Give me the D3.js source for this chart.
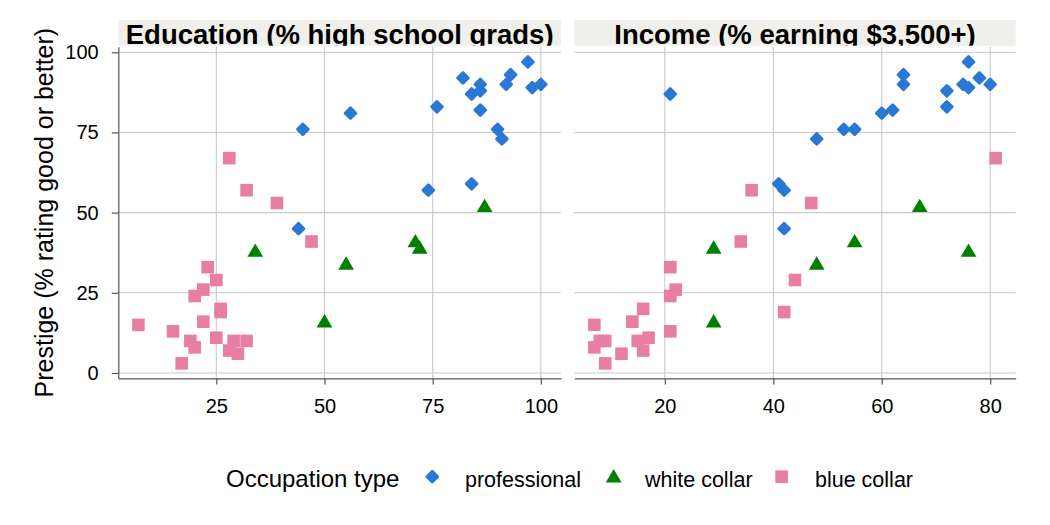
<!DOCTYPE html>
<html>
<head>
<meta charset="utf-8">
<script src="https://cdn.jsdelivr.net/npm/d3@7/dist/d3.min.js"></script>
<style>
  html, body { margin: 0; padding: 0; background: #fff; }
  svg { display: block; font-family: "Liberation Sans", Arial, sans-serif; }
</style>
</head>
<body>
<svg id="chart" width="1050" height="525"></svg>
<script>
// Duncan occupational prestige data
const occupations = ["accountant","pilot","architect","author","chemist","minister","professor","dentist","reporter","engineer","undertaker","lawyer","physician","welfare.worker","teacher","conductor","contractor","factory.owner","store.manager","banker","bookkeeper","mail.carrier","insurance.agent","store.clerk","carpenter","electrician","RR.engineer","machinist","auto.repairman","plumber","gas.stn.attendant","coal.miner","streetcar.motorman","taxi.driver","truck.driver","machine.operator","barber","bartender","shoe.shiner","cook","soda.clerk","watchman","janitor","policeman","waiter"];
const types = ["prof","prof","prof","prof","prof","prof","prof","prof","wc","prof","prof","prof","prof","prof","prof","wc","prof","prof","prof","prof","wc","wc","wc","wc","bc","bc","bc","bc","bc","bc","bc","bc","bc","bc","bc","bc","bc","bc","bc","bc","bc","bc","bc","bc","bc"];
const income = [62,72,75,55,64,21,64,80,67,72,42,76,76,41,48,76,53,60,42,78,29,48,55,29,21,47,81,36,22,44,15,7,42,9,21,21,16,16,9,14,12,17,7,34,8];
const education = [86,76,92,90,86,84,93,100,87,86,74,98,97,84,91,34,45,56,44,82,72,55,71,50,23,39,28,32,22,25,29,7,26,19,15,20,26,28,17,22,30,25,20,47,32];
const prestige = [82,83,90,76,90,87,93,90,52,88,57,89,97,59,73,38,76,81,45,92,39,34,41,16,33,53,67,57,26,29,10,15,19,10,13,24,20,7,3,16,6,11,8,41,10];

const typeKeys = ["prof","wc","bc"];
const typeLabels = ["professional","white collar","blue collar"];
const typeColors = ["#2a78d6","#008000","#e87ea4"];

const panelTitles = ["Education (% high school grads)","Income (% earning $3,500+)"];
const eduTicks = [25,50,75,100];
const incTicks = [20,40,60,80];
const prestigeTicks = [0,25,50,75,100];

const svg = d3.select("#chart");
const gridColor = "#c9c8d0";
const axisColor = "#555555";

function expand(ext) {
  const r = ext[1] - ext[0];
  return [ext[0] - 0.05 * r, ext[1] + 0.05 * r];
}

const plotTop = 46.85, plotBottom = 378.45;
const y = d3.scaleLinear().domain(expand(d3.extent(prestige))).range([plotBottom, plotTop]);

const panels = [
  { title: panelTitles[0], x: d3.scaleLinear().domain(expand(d3.extent(education))).range([118.3, 561]), values: education, ticks: eduTicks },
  { title: panelTitles[1], x: d3.scaleLinear().domain(expand(d3.extent(income))).range([574.3, 1015.7]), values: income, ticks: incTicks }
];

const colorOf = d3.scaleOrdinal().domain(typeKeys).range(typeColors);

function shapePath(t) {
  if (t === "prof") return "M0,-5.4 L5.4,0 L0,5.4 L-5.4,0 Z";
  if (t === "wc") return "M0,-7.6 L7.9,5.7 L-7.9,5.7 Z";
  return "M-6.3,-6.3 L6.3,-6.3 L6.3,6.3 L-6.3,6.3 Z";
}
function shapeStroke(t) { return t === "prof" ? 2.8 : 0; }

const defs = svg.append("defs");

panels.forEach((p, pi) => {
  const [x0, x1] = p.x.range();
  const g = svg.append("g");

  // strip
  const clipId = "strip-clip-" + pi;
  defs.append("clipPath").attr("id", clipId)
    .append("rect").attr("x", x0).attr("y", 20).attr("width", x1 - x0).attr("height", 25.7);
  g.append("rect").attr("x", x0).attr("y", 20).attr("width", x1 - x0).attr("height", 25.7)
    .attr("fill", "#f0efeb");
  g.append("text").attr("clip-path", `url(#${clipId})`)
    .attr("x", (x0 + x1) / 2).attr("y", 44.3)
    .attr("text-anchor", "middle").attr("font-weight", "bold").attr("font-size", 27.5)
    .attr("fill", "#000").text(p.title);

  // grid
  g.append("g").selectAll("line").data(prestigeTicks).join("line")
    .attr("x1", x0).attr("x2", x1).attr("y1", d => y(d)).attr("y2", d => y(d))
    .attr("stroke", gridColor).attr("stroke-width", 1.1);
  g.append("g").selectAll("line").data(p.ticks).join("line")
    .attr("x1", d => p.x(d)).attr("x2", d => p.x(d)).attr("y1", plotTop).attr("y2", plotBottom)
    .attr("stroke", gridColor).attr("stroke-width", 1.1);

  // x axis
  const xAxis = d3.axisBottom(p.x).tickValues(p.ticks).tickSize(6).tickPadding(14).tickSizeOuter(0);
  const xa = g.append("g").attr("transform", `translate(0,${plotBottom})`).call(xAxis);
  xa.select(".domain").attr("stroke", axisColor).attr("stroke-width", 1.2);
  xa.selectAll(".tick line").attr("stroke", axisColor).attr("stroke-width", 1.2);
  xa.selectAll(".tick text").attr("font-size", 20).attr("fill", "#000")
    .attr("font-family", "Liberation Sans, Arial, sans-serif");

  // y axis (left panel only)
  if (pi === 0) {
    const yAxis = d3.axisLeft(y).tickValues(prestigeTicks).tickSize(6.6).tickPadding(13).tickSizeOuter(0);
    const ya = g.append("g").attr("transform", `translate(${x0},0)`).call(yAxis);
    ya.select(".domain").attr("stroke", axisColor).attr("stroke-width", 1.2);
    ya.selectAll(".tick line").attr("stroke", axisColor).attr("stroke-width", 1.2);
    ya.selectAll(".tick text").attr("font-size", 20).attr("fill", "#000")
      .attr("font-family", "Liberation Sans, Arial, sans-serif");
  }

  // points
  const idx = d3.range(occupations.length);
  g.append("g").selectAll("path").data(idx).join("path")
    .attr("transform", i => `translate(${p.x(p.values[i])},${y(prestige[i])})`)
    .attr("d", i => shapePath(types[i]))
    .attr("fill", i => colorOf(types[i]))
    .attr("stroke", i => colorOf(types[i]))
    .attr("stroke-width", i => shapeStroke(types[i]))
    .attr("stroke-linejoin", "round");
});

// y axis title
svg.append("text")
  .attr("transform", `translate(53,${(plotTop + plotBottom) / 2}) rotate(-90)`)
  .attr("text-anchor", "middle").attr("font-size", 25).attr("fill", "#000")
  .text("Prestige (% rating good or better)");

// legend
const lg = svg.append("g");
lg.append("text").attr("x", 226).attr("y", 486.7).attr("font-size", 24).attr("fill", "#000")
  .text("Occupation type");
const legendSymX = [432.3, 613.7, 781.6];
const legendTextX = [465, 645, 815];
typeKeys.forEach((t, i) => {
  lg.append("path").attr("transform", `translate(${legendSymX[i]},476.7)`)
    .attr("d", shapePath(t)).attr("fill", typeColors[i]).attr("stroke", typeColors[i])
    .attr("stroke-width", shapeStroke(t)).attr("stroke-linejoin", "round");
  lg.append("text").attr("x", legendTextX[i]).attr("y", 486.7).attr("font-size", 21.5)
    .attr("fill", "#000").text(typeLabels[i]);
});
</script>
</body>
</html>
